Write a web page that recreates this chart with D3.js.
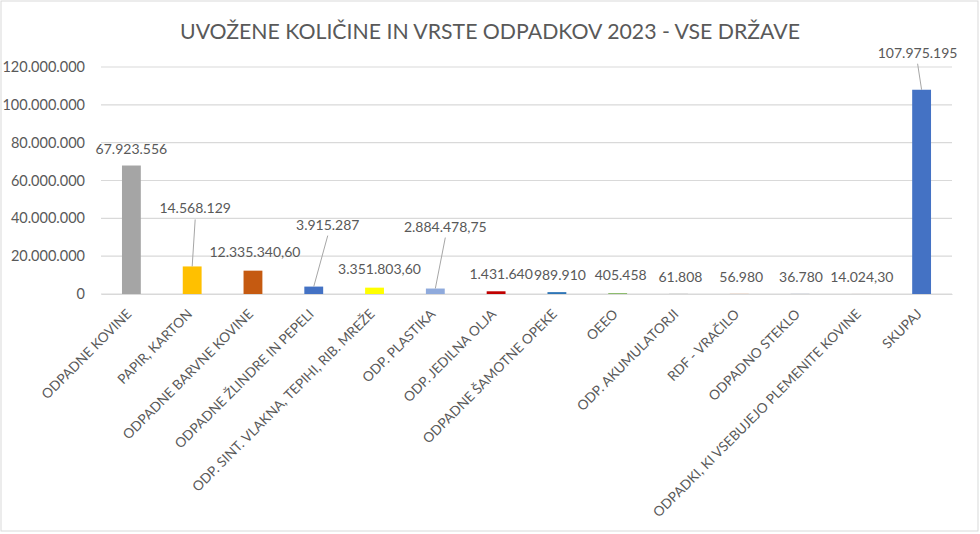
<!DOCTYPE html>
<html>
<head>
<meta charset="utf-8">
<script src="https://cdn.jsdelivr.net/npm/d3@7"></script>
<style>
  body { margin: 0; background: #fff; }
  text { font-family: Lato, "Open Sans", sans-serif; fill: #595959; }
</style>
</head>
<body>
<div id="chart"></div>
<script>
// categories and values
var categories = [
  "ODPADNE KOVINE", "PAPIR, KARTON", "ODPADNE BARVNE KOVINE", "ODPADNE ŽLINDRE IN PEPELI",
  "ODP. SINT. VLAKNA, TEPIHI, RIB. MREŽE", "ODP. PLASTIKA", "ODP. JEDILNA OLJA",
  "ODPADNE ŠAMOTNE OPEKE", "OEEO", "ODP. AKUMULATORJI", "RDF - VRAČILO",
  "ODPADNO STEKLO", "ODPADKI, KI VSEBUJEJO PLEMENITE KOVINE", "SKUPAJ"
];
var values = [
  67923556, 14568129, 12335340.60, 3915287, 3351803.60, 2884478.75, 1431640,
  989910, 405458, 61808, 56980, 36780, 14024.30, 107975195
];
var valueLabels = [
  "67.923.556", "14.568.129", "12.335.340,60", "3.915.287", "3.351.803,60",
  "2.884.478,75", "1.431.640", "989.910", "405.458", "61.808", "56.980",
  "36.780", "14.024,30", "107.975.195"
];
var yTicks = [0, 20000000, 40000000, 60000000, 80000000, 100000000, 120000000];
var yTickLabels = ["0", "20.000.000", "40.000.000", "60.000.000", "80.000.000", "100.000.000", "120.000.000"];

// styling / layout kept separate
var barColors = [
  "#a5a5a5", "#ffc000", "#c55a11", "#4472c4", "#ffff00", "#8faadc", "#c00000",
  "#2e75b6", "#70ad47", "#7f7f7f", "#ed7d31", "#264478", "#9e480e", "#4472c4"
];
// data label offsets: [dx from bar centre, baseline above bar top, leader?]
var labelOffsets = [
  [0, 12, 0], [3, 53, 1], [2, 14, 0], [14, 57, 1], [5, 14, 0], [10, 57, 1], [5, 12, 0],
  [3, 12, 0], [3, 13, 0], [2, 12, 0], [2, 12, 0], [1, 12, 0], [1, 12, 0], [-4, 32, 1]
];

var svgWidth = 980;
var svgHeight = 534;
var margin = { top: 67, right: 28, bottom: 240, left: 101 };
var width = 952 - margin.left;
var height = 294 - margin.top;

var svg = d3.select("#chart").append("svg")
  .attr("width", svgWidth)
  .attr("height", svgHeight);

// outer chart border
svg.append("rect")
  .attr("x", 1).attr("y", 1)
  .attr("width", svgWidth - 3).attr("height", 530)
  .attr("fill", "none")
  .attr("stroke", "#d9d9d9");

svg.append("text")
  .attr("x", 490)
  .attr("y", 39)
  .attr("text-anchor", "middle")
  .attr("font-size", "22px")
  .attr("textLength", 620)
  .attr("lengthAdjust", "spacingAndGlyphs")
  .text("UVOŽENE KOLIČINE IN VRSTE ODPADKOV 2023 - VSE DRŽAVE");

var chartGroup = svg.append("g")
  .attr("transform", `translate(${margin.left}, ${margin.top})`);

var xScale = d3.scaleBand()
  .domain(categories)
  .range([0, width])
  .paddingInner(0.69)
  .paddingOuter(0.345);

var yScale = d3.scaleLinear()
  .domain([0, 120000000])
  .range([height, 0]);

// gridlines
chartGroup.append("g")
  .selectAll("line")
  .data(yTicks)
  .enter()
  .append("line")
  .attr("x1", 0)
  .attr("x2", width)
  .attr("y1", d => yScale(d))
  .attr("y2", d => yScale(d))
  .attr("stroke", "#d9d9d9")
  .attr("stroke-width", 1.2);

// y axis (no line, only labels)
var leftAxis = d3.axisLeft(yScale)
  .tickValues(yTicks)
  .tickFormat((d, i) => yTickLabels[i])
  .tickSize(0)
  .tickPadding(16);

var yAxisG = chartGroup.append("g").call(leftAxis);
yAxisG.select(".domain").remove();
yAxisG.selectAll("text")
  .attr("font-size", "14.5px")
  .attr("fill", "#595959")
  .style("font-family", "Lato, sans-serif");

// bars
chartGroup.selectAll(".bar")
  .data(values)
  .enter()
  .append("rect")
  .attr("class", "bar")
  .attr("x", (d, i) => xScale(categories[i]))
  .attr("y", d => yScale(d))
  .attr("width", xScale.bandwidth())
  .attr("height", d => height - yScale(d))
  .attr("fill", (d, i) => barColors[i]);

// x axis
var bottomAxis = d3.axisBottom(xScale).tickSize(0).tickFormat("");
var xAxisG = chartGroup.append("g")
  .attr("transform", `translate(0, ${height})`)
  .call(bottomAxis);
xAxisG.select(".domain").attr("stroke", "#d9d9d9").attr("stroke-width", 1.2);

// rotated category labels
chartGroup.append("g")
  .selectAll("text")
  .data(categories)
  .enter()
  .append("text")
  .attr("transform", d => `translate(${xScale(d) + xScale.bandwidth() / 2 + 1}, ${height + 21}) rotate(-45)`)
  .attr("text-anchor", "end")
  .attr("font-size", "13.6px")
  .text(d => d);

// leader lines
var cx = i => xScale(categories[i]) + xScale.bandwidth() / 2;
chartGroup.append("g")
  .selectAll("line")
  .data(values.map((v, i) => i).filter(i => labelOffsets[i][2]))
  .enter()
  .append("line")
  .attr("x1", i => cx(i) + labelOffsets[i][0])
  .attr("y1", i => yScale(values[i]) - labelOffsets[i][1] + 6)
  .attr("x2", i => cx(i))
  .attr("y2", i => yScale(values[i]))
  .attr("stroke", "#a6a6a6")
  .attr("stroke-width", 1);

// data labels
chartGroup.append("g")
  .selectAll("text")
  .data(values)
  .enter()
  .append("text")
  .attr("x", (d, i) => cx(i) + labelOffsets[i][0])
  .attr("y", (d, i) => yScale(d) - labelOffsets[i][1])
  .attr("text-anchor", "middle")
  .attr("font-size", "14px")
  .attr("fill", "#404040")
  .text((d, i) => valueLabels[i]);
</script>
</body>
</html>
